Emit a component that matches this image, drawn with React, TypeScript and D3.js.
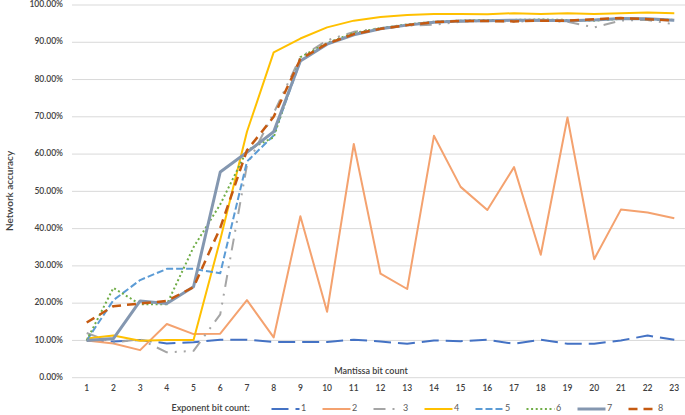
import React from "react";
import * as d3 from "d3";

const categories = d3.range(1, 24).map(String);
const yTicks = [0, 10, 20, 30, 40, 50, 60, 70, 80, 90, 100];

const s1 = [10, 9.7, 10.1, 9.2, 9.5, 10.2, 10.2, 9.6, 9.6, 9.6, 10.2, 9.7, 9.1, 10.0, 9.8, 10.2, 9.1, 10.2, 9.1, 9.1, 10.0, 11.3, 10.2];
const s2 = [10, 9.2, 7.4, 14.4, 11.7, 11.8, 20.8, 10.8, 43.3, 17.7, 62.7, 27.9, 23.8, 64.9, 51.2, 45.0, 56.5, 33.0, 69.8, 31.8, 45.1, 44.3, 42.8];
const s3 = [12, 9.4, 10.3, 6.8, 7.2, 17, 57, 71, 86, 90.5, 92.8, 93.8, 94.5, 94.7, 95.5, 95.8, 95.5, 95.8, 95.5, 94, 95.8, 96, 94.8];
const s4 = [10.5, 11.3, 9.9, 10.1, 10.1, 37, 66, 87.3, 91, 94, 95.8, 96.8, 97.3, 97.6, 97.6, 97.5, 97.8, 97.6, 97.8, 97.6, 97.8, 98, 97.8];
const s5 = [10, 20.8, 26.2, 29.2, 29.2, 28.0, 58, 65, 85, 89.5, 92.2, 93.6, 94.6, 95.4, 95.7, 95.8, 95.9, 95.9, 95.8, 96, 96.3, 96.2, 95.9];
const s6 = [10, 24.1, 19.7, 19.7, 35, 46.5, 61, 64.5, 86, 89.8, 92.5, 93.8, 94.8, 95.5, 95.8, 96, 96, 96.1, 96, 95.8, 96.3, 96.2, 96];
const s7 = [10, 10.5, 20.6, 19.9, 24.4, 55.2, 60.5, 66, 85, 89.5, 92, 93.6, 94.6, 95.4, 95.7, 95.8, 95.9, 95.9, 95.8, 96, 96.4, 96.3, 95.9];
const s8 = [14.8, 19.2, 19.9, 20.6, 24.3, 40.2, 61, 70, 85.5, 89.6, 92.2, 93.6, 94.6, 95.4, 95.7, 95.7, 95.6, 95.8, 95.8, 96.2, 96.5, 96.2, 95.8];

const seriesNames = ["1", "2", "3", "4", "5", "6", "7", "8"];
const seriesValues = [s1, s2, s3, s4, s5, s6, s7, s8];

const styles = [
  { color: "#4472C4", width: 2, dash: "17 7" },
  { color: "#F4A26F", width: 2, dash: "" },
  { color: "#A5A5A5", width: 2, dash: "12 7 2 7 2 7" },
  { color: "#FFC000", width: 2, dash: "" },
  { color: "#5B9BD5", width: 2, dash: "7 3" },
  { color: "#70AD47", width: 2, dash: "2 2.6" },
  { color: "#8497B0", width: 3, dash: "" },
  { color: "#C55A11", width: 2.5, dash: "9 6" },
];

const FONT = "Lato, 'Open Sans', sans-serif";
const TEXT = "#404040";

export default function App() {
  const W = 685;
  const H = 415;
  const x = d3.scalePoint<string>().domain(categories).range([86.7, 674.3]);
  const y = d3.scaleLinear().domain([0, 100]).range([377.7, 5]);
  const line = d3
    .line<number>()
    .x((_, i) => x(categories[i]) as number)
    .y((d) => y(d));

  const legendStart = 271.5;
  const legendStep = 51;

  return (
    <svg
      width={W}
      height={H}
      style={{ position: "absolute", left: 0, top: 0, background: "#fff" }}
      fontFamily={FONT}
    >
      {yTicks.map((t) => (
        <g key={t}>
          <line x1={72} x2={W} y1={y(t)} y2={y(t)} stroke="#D9D9D9" strokeWidth={1} />
          <text
            x={63}
            y={y(t)}
            textAnchor="end"
            dominantBaseline="middle"
            fontSize={8.5}
            fontWeight={600}
            fill={TEXT}
          >
            {t.toFixed(2) + "%"}
          </text>
        </g>
      ))}
      {categories.map((c) => (
        <text
          key={c}
          x={x(c)}
          y={389}
          textAnchor="middle"
          dominantBaseline="middle"
          fontSize={8.5}
          fontWeight={600}
          fill={TEXT}
        >
          {c}
        </text>
      ))}
      <text
        x={371}
        y={371.5}
        textAnchor="middle"
        dominantBaseline="middle"
        fontSize={9}
        fontWeight={600}
        fill={TEXT}
      >
        Mantissa bit count
      </text>
      <text
        transform={`translate(10.5,191) rotate(-90)`}
        textAnchor="middle"
        dominantBaseline="middle"
        fontSize={10}
        fontWeight={600}
        fill={TEXT}
      >
        Network accuracy
      </text>
      {seriesValues.map((vals, i) => (
        <path
          key={i}
          d={line(vals) || ""}
          fill="none"
          stroke={styles[i].color}
          strokeWidth={styles[i].width}
          strokeDasharray={styles[i].dash || undefined}
          strokeLinejoin="round"
        />
      ))}
      <text
        x={171.5}
        y={409}
        dominantBaseline="middle"
        fontSize={9}
        fontWeight={600}
        fill={TEXT}
      >
        Exponent bit count:
      </text>
      {seriesNames.map((n, i) => {
        const lx = legendStart + i * legendStep;
        return (
          <g key={n}>
            <line
              x1={lx}
              x2={lx + 28}
              y1={409}
              y2={409}
              stroke={styles[i].color}
              strokeWidth={styles[i].width}
              strokeDasharray={styles[i].dash || undefined}
            />
            <text
              x={lx + 29.5}
              y={409}
              dominantBaseline="middle"
              fontSize={9}
              fill="#595959"
            >
              {n}
            </text>
          </g>
        );
      })}
    </svg>
  );
}
